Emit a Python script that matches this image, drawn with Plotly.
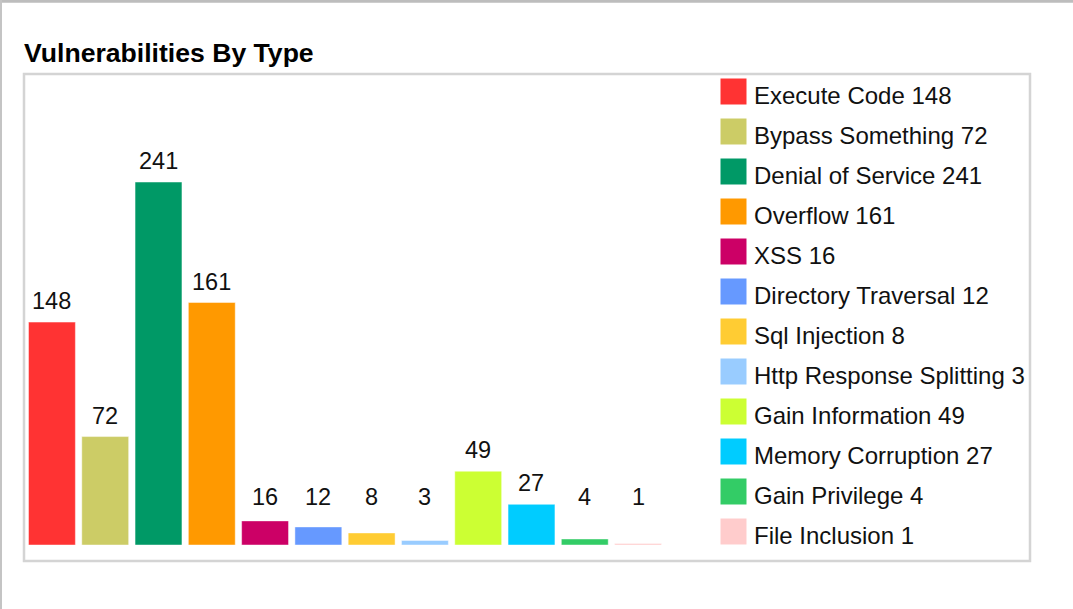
import plotly.graph_objects as go

W, H = 1073, 609

categories = ["Execute Code", "Bypass Something", "Denial of Service", "Overflow", "XSS",
              "Directory Traversal", "Sql Injection", "Http Response Splitting",
              "Gain Information", "Memory Corruption", "Gain Privilege", "File Inclusion"]
values = [148, 72, 241, 161, 16, 12, 8, 3, 49, 27, 4, 1]
colors = ["#ff3333", "#cccc66", "#009966", "#ff9900", "#cc0066", "#6699ff",
          "#ffcc33", "#99ccff", "#ccff33", "#00ccff", "#33cc66", "#ffcccc"]

FONT = "Liberation Sans, Arial, sans-serif"
LABEL_FLOOR = 18  # small-bar labels sit at a common minimum height

def px(x):
    return x / W

def py(y):
    return 1 - y / H

fig = go.Figure()

# bars
fig.add_trace(go.Bar(
    x=list(range(len(categories))), y=values,
    marker=dict(color=colors, line=dict(color="rgba(255,255,255,0.45)", width=1)),
    width=0.88, showlegend=False, hoverinfo="x+y",
    hovertext=categories,
))

# value labels
annotations = []
for i, v in enumerate(values):
    annotations.append(dict(x=i, y=max(v, LABEL_FLOOR), xref="x", yref="y", text=str(v),
                            showarrow=False, yanchor="bottom", yshift=6,
                            font=dict(family=FONT, size=23.5, color="#111")))

# legend drawn as markers + text on a pixel-mapped axis
leg_y = [91.5 + 40 * i for i in range(len(categories))]
fig.add_trace(go.Scatter(
    x=[733.5] * len(categories), y=leg_y, mode="markers",
    marker=dict(symbol="square", size=26, color=colors, line=dict(width=0)),
    xaxis="x2", yaxis="y2", showlegend=False, hoverinfo="skip",
))
fig.add_trace(go.Scatter(
    x=[754] * len(categories), y=[y + 6 for y in leg_y], mode="text",
    text=[f"{c} {v}" for c, v in zip(categories, values)],
    textposition="middle right",
    textfont=dict(family=FONT, size=24, color="#111"),
    xaxis="x2", yaxis="y2", showlegend=False, hoverinfo="skip",
))

# title
annotations.append(dict(x=px(21.5), y=py(52.5), xref="paper", yref="paper",
                        text="<b>Vulnerabilities By Type</b>", showarrow=False,
                        xanchor="left", yanchor="middle",
                        font=dict(family=FONT, size=26.6, color="#000")))

shapes = [
    # chart frame
    dict(type="rect", xref="paper", yref="paper", x0=px(24), x1=px(1030), y0=py(74), y1=py(561),
         line=dict(color="#d4d4d4", width=2.5), layer="below"),
    # page border lines
    dict(type="line", xref="paper", yref="paper", x0=0, x1=1, y0=py(1.2), y1=py(1.2),
         line=dict(color="#bdbdbd", width=3)),
    dict(type="line", xref="paper", yref="paper", x0=px(1), x1=px(1), y0=0, y1=1,
         line=dict(color="#c4c4c4", width=2)),
]

bar_left, bar_right = 25.3, 664.7
bar_bottom, bar_top = 545, 74
ymax = (bar_bottom - bar_top) / 1.506

fig.update_layout(
    width=W, height=H,
    margin=dict(l=0, r=0, t=0, b=0),
    paper_bgcolor="white", plot_bgcolor="rgba(0,0,0,0)",
    xaxis=dict(domain=[px(bar_left), px(bar_right)], range=[-0.5, len(categories) - 0.5],
               visible=False, fixedrange=True),
    yaxis=dict(domain=[py(bar_bottom), py(bar_top)], range=[0, ymax], visible=False, fixedrange=True),
    xaxis2=dict(domain=[px(700), px(1028)], range=[700, 1028], visible=False, anchor="y2", fixedrange=True),
    yaxis2=dict(domain=[0, 1], range=[H, 0], visible=False, anchor="x2", fixedrange=True),
    annotations=annotations,
    shapes=shapes,
    font=dict(family=FONT),
)

fig.write_html("out.html", config={"displayModeBar": False},
               post_script="document.body.style.margin='0';document.body.style.overflow='hidden';")
